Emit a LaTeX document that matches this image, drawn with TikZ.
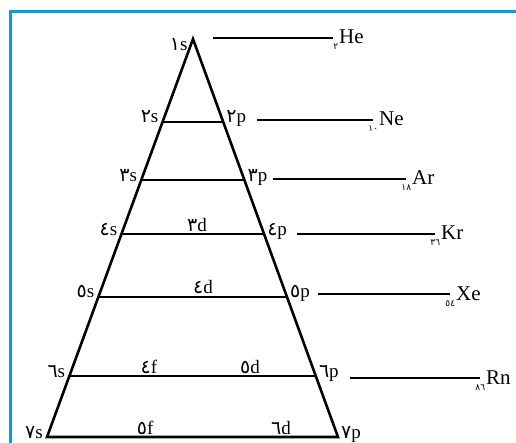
\documentclass[tikz,border=0pt]{standalone}
\usepackage{fontspec}
\setmainfont{Liberation Serif}
\newfontfamily\arabicfont[Script=Arabic]{DejaVu Sans}
\usepackage{xcolor}
\usetikzlibrary{calc}
\definecolor{framecol}{RGB}{0,160,227}
\newcommand{\ard}[1]{{\arabicfont #1}}
\newcommand{\zsub}[1]{\llap{\raisebox{-6pt}{\fontsize{9}{9}\selectfont\arabicfont #1}\kern1pt}}

\begin{document}
\begin{tikzpicture}[
    x=1pt, y=-1pt,
    frame/.style={draw=framecol, line width=3pt, line join=miter},
    tri/.style={draw=black, line width=2.6pt, line join=miter},
    shell/.style={draw=black, line width=2.3pt},
    gasline/.style={draw=black, line width=2.2pt},
    lbl/.style={inner sep=0pt, font=\fontsize{19}{19}\selectfont},
    sleft/.style={lbl, anchor=base east, xshift=-4pt, yshift=-1pt},
    pright/.style={lbl, anchor=base west, xshift=3pt, yshift=-1pt},
    mid/.style={lbl, anchor=base, yshift=3pt},
    gas/.style={inner sep=0pt, anchor=base west, xshift=5pt, yshift=-6pt, font=\fontsize{21}{21}\selectfont}
]
\useasboundingbox (0,0) rectangle (516,443);

% Frame
\draw[frame] (10.5,443) -- (10.5,11.3) -- (516,11.3);

% Triangle
\coordinate (top) at (193,39);
\coordinate (bl) at (47,437);
\coordinate (br) at (338,437);
\draw[tri] (top) -- (bl) -- (br) -- cycle;
\node[lbl, anchor=base east, xshift=-1pt] (s1) at ($(top)!0.03!(bl)$) {\ard{١}s};

% Shells
\foreach \n/\t in {2/0.2085, 3/0.3543, 4/0.490, 5/0.648, 6/0.847} {
    \coordinate (l\n) at ($(top)!\t!(bl)$);
    \coordinate (r\n) at ($(top)!\t!(br)$);
    \draw[shell] (l\n) -- (r\n);
}
\coordinate (l7) at (bl);
\coordinate (r7) at (br);

% Labels
\foreach \n/\d in {2/٢, 3/٣, 4/٤, 5/٥, 6/٦, 7/٧} {
    \node[sleft] (s\n) at (l\n) {\ard{\d}s};
    \node[pright] (p\n) at (r\n) {\ard{\d}p};
}
\path (l4) -- (r4) node[mid, pos=0.53] (d3) {\ard{٣}d};
\path (l5) -- (r5) node[mid, pos=0.555] (d4) {\ard{٤}d};
\path (l6) -- (r6) node[mid, pos=0.323] (f4) {\ard{٤}f}
                   node[mid, pos=0.733] (d5) {\ard{٥}d};
\path (l7) -- (r7) node[mid, pos=0.337] (f5) {\ard{٥}f}
                   node[mid, pos=0.804] (d6) {\ard{٦}d};

% Noble gases
\foreach \y/\xa/\xb/\z/\el in {38/213/333/٢/He, 120/257/373/١٠/Ne, 179/273/406/١٨/Ar,
                               234/297/435/٣٦/Kr, 294/318/450/٥٤/Xe, 378/350/480/٨٦/Rn} {
    \coordinate (ga\el) at (\xa,\y);
    \coordinate (gb\el) at (\xb,\y);
    \draw[gasline] (ga\el) -- (gb\el) node[gas] (n\el) {\zsub{\z}\el};
}

\end{tikzpicture}
\end{document}
